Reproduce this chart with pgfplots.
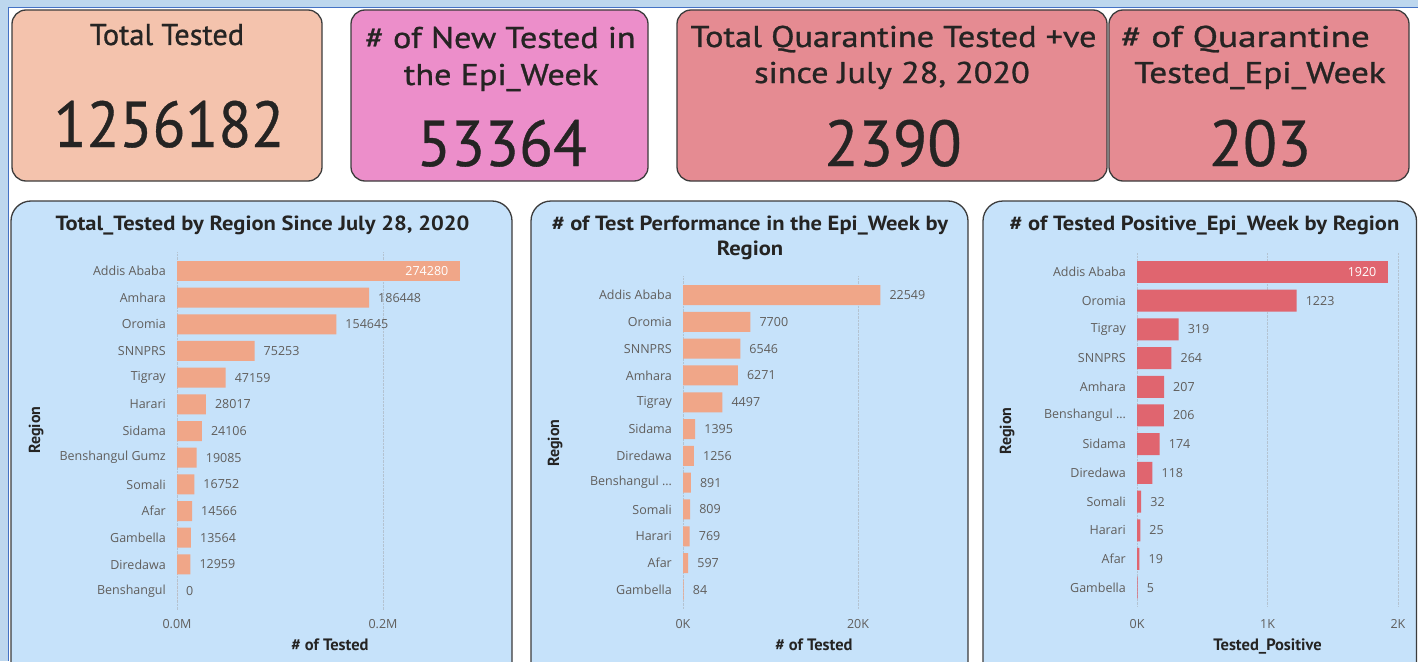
\documentclass[border=0pt]{standalone}
\usepackage{pgfplots}
\pgfplotsset{compat=1.18}
\usepackage{pgfplotstable}
\usepackage{fontspec}
\setmainfont{Open Sans}
\newfontfamily\din{PT Sans}
\newfontfamily\dinm{PT Sans}[FakeBold=0.9]
\newfontfamily\dinn{PT Sans}[FakeBold=0.6]
\definecolor{bgblue}{HTML}{BDD7EE}
\definecolor{frameblue}{HTML}{4472C4}
\definecolor{peach}{HTML}{F4C3AD}
\definecolor{pinkc}{HTML}{EC8ECA}
\definecolor{rose}{HTML}{E58B92}
\definecolor{panelblue}{HTML}{C6E2FA}
\definecolor{bord}{HTML}{3C3C3C}
\definecolor{salmon}{HTML}{F0A688}
\definecolor{redbar}{HTML}{E0656F}
\definecolor{darktext}{HTML}{252423}
\definecolor{tickgray}{HTML}{605E5C}
\definecolor{gridc}{HTML}{B4C3D1}
\newcommand\ticf{\fontsize{12.5}{14}\selectfont}
\newcommand\cardf{\dinm\fontsize{30}{32}\selectfont}
\newcommand\numf{\dinn\fontsize{65}{70}\selectfont}
\newcommand\titf{\din\bfseries\fontsize{20.5}{22}\selectfont}

\pgfplotstableread{
idx val
0 274280
}\dataAtop
\pgfplotstableread{
idx val
1 186448
2 154645
3 75253
4 47159
5 28017
6 24106
7 19085
8 16752
9 14566
10 13564
11 12959
12 0
}\dataArest
\pgfplotstableread{
idx val
0 22549
1 7700
2 6546
3 6271
4 4497
5 1395
6 1256
7 891
8 809
9 769
10 597
11 84
}\dataB
\pgfplotstableread{
idx val
0 1920
}\dataCtop
\pgfplotstableread{
idx val
1 1223
2 319
3 264
4 207
5 206
6 174
7 118
8 32
9 25
10 19
11 5
}\dataCrest

\pgfplotsset{
  pbi/.style={
    scale only axis, anchor=south west,
    xbar, bar shift=0pt, y dir=reverse, xmin=0,
    axis x line*=bottom, axis y line*=left,
    axis line style={draw=none}, major tick length=0pt, tick style={draw=none},
    xmajorgrids, major grid style={densely dotted, gridc, line width=0.6pt},
    ytick=data,
    ticklabel style={font=\ticf, text=tickgray},
    yticklabel style={anchor=east, inner sep=0pt, xshift=-11pt},
    xticklabel style={anchor=center, inner sep=0pt},
    scaled x ticks=false,
    point meta=explicit symbolic,
    nodes near coords,
    every node near coord/.append style={font=\ticf, text=tickgray, anchor=west, inner sep=0pt, xshift=9pt},
  },
  inlab/.style={every node near coord/.append style={anchor=east, text=white, xshift=-20pt}},
}

\begin{document}
\begin{tikzpicture}
\path[use as bounding box] (0pt,0pt) rectangle (1418pt,-661pt);
\clip (0pt,0pt) rectangle (1418pt,-661pt);
\begin{scope}[x=1pt,y=-1pt]
\fill[bgblue] (0,0) rectangle (1418,661);
\fill[white] (9,8) rectangle (1418,661);
\draw[frameblue, line width=1.6pt] (8.5,661) -- (8.5,7.5) -- (1418,7.5);
% cards
\draw[bord, line width=1.3pt, fill=peach, rounded corners=14pt] (12,10) rectangle (322,181);
\draw[bord, line width=1.3pt, fill=pinkc, rounded corners=14pt] (351,10) rectangle (648,181);
\draw[bord, line width=1.3pt, fill=rose, rounded corners=14pt] (677,10) rectangle (1107,181);
\draw[bord, line width=1.3pt, fill=rose, rounded corners=14pt] (1109,10) rectangle (1409,181);
\begin{scope}[every node/.style={anchor=base, inner sep=0pt, text=darktext}]
\node[font=\cardf, xscale=1.01] at (167,45) {Total Tested};
\node[font=\numf, xscale=0.93] at (169,147) {1256182};
\node[font=\cardf, xscale=1.14] at (500.5,48) {\# of New Tested in};
\node[font=\cardf, xscale=1.14] at (501,85) {the Epi\_Week};
\node[font=\numf, xscale=0.96] at (502,166) {53364};
\node[font=\cardf, xscale=1.14] at (893.5,47) {Total Quarantine Tested +ve};
\node[font=\cardf, xscale=1.14] at (892,83) {since July 28, 2020};
\node[font=\numf, xscale=0.97] at (893,166) {2390};
\node[font=\cardf, xscale=1.24] at (1245.5,47) {\# of Quarantine};
\node[font=\cardf, xscale=1.17] at (1260,83) {Tested\_Epi\_Week};
\node[font=\numf, xscale=0.96] at (1260,166) {203};
\end{scope}
% panels
\draw[bord, line width=1.3pt, fill=panelblue, rounded corners=20pt] (11,201) rectangle (512,690);
\draw[bord, line width=1.3pt, fill=panelblue, rounded corners=20pt] (531,201) rectangle (968,690);
\draw[bord, line width=1.3pt, fill=panelblue, rounded corners=20pt] (983,201) rectangle (1416.5,690);
\begin{scope}[every node/.style={anchor=base, inner sep=0pt, text=darktext}]
\node[font=\titf, xscale=1.1] at (262.5,230) {Total\_Tested by Region Since July 28, 2020};
\node[font=\titf, xscale=1.1] at (750,230) {\# of Test Performance in the Epi\_Week by};
\node[font=\titf, xscale=1.1] at (750,255) {Region};
\node[font=\titf, xscale=1.1] at (1204.5,230) {\# of Tested Positive\_Epi\_Week by Region};
\node[font=\din\bfseries\fontsize{16.5}{18}\selectfont] at (330,650) {\# of Tested};
\node[font=\din\bfseries\fontsize{16.5}{18}\selectfont] at (814,650) {\# of Tested};
\node[font=\din\bfseries\fontsize{16.5}{18}\selectfont] at (1267.5,650) {Tested\_Positive};
\node[font=\din\bfseries\fontsize{16}{18}\selectfont, rotate=90] at (40,430) {Region};
\node[font=\din\bfseries\fontsize{16}{18}\selectfont, rotate=90] at (559,443) {Region};
\node[font=\din\bfseries\fontsize{16}{18}\selectfont, rotate=90] at (1011,431) {Region};
\end{scope}
\end{scope}

% Panel 1
\begin{axis}[pbi,
  at={(177pt,-609.7pt)}, width=313pt, height=357.4pt,
  xmax=303883, ymin=-0.7, ymax=12.7, bar width=20pt,
  ytick={0,...,12},
  yticklabels={Addis Ababa,Amhara,Oromia,SNNPRS,Tigray,Harari,Sidama,Benshangul Gumz,Somali,Afar,Gambella,Diredawa,Benshangul},
  xtick={0,200000}, xticklabels={0.0M,0.2M},
  xticklabel style={yshift=-14.3pt},
]
\addplot[fill=salmon, draw=none] table[x=val, y=idx, meta=val] \dataArest;
\addplot[fill=salmon, draw=none, inlab] table[x=val, y=idx, meta=val] \dataAtop;
\end{axis}

% Panel 2
\begin{axis}[pbi,
  at={(683pt,-608.6pt)}, width=247pt, height=332.3pt,
  xmax=28229, ymin=-0.7, ymax=11.7, bar width=20pt,
  ytick={0,...,11},
  yticklabels={Addis Ababa,Oromia,SNNPRS,Amhara,Tigray,Sidama,Diredawa,Benshangul …,Somali,Harari,Afar,Gambella},
  xtick={0,20000}, xticklabels={0K,20K},
  xticklabel style={yshift=-15.4pt},
]
\addplot[fill=salmon, draw=none] table[x=val, y=idx, meta=val] \dataB;
\end{axis}

% Panel 3
\begin{axis}[pbi,
  at={(1137pt,-606.6pt)}, width=263.6pt, height=353.6pt,
  xmax=2020, ymin=-0.66, ymax=11.66, bar width=22pt,
  ytick={0,...,11},
  yticklabels={Addis Ababa,Oromia,Tigray,SNNPRS,Amhara,Benshangul …,Sidama,Diredawa,Somali,Harari,Afar,Gambella},
  xtick={0,1000,2000}, xticklabels={0K,1K,2K},
  xticklabel style={yshift=-17.4pt},
]
\addplot[fill=redbar, draw=none] table[x=val, y=idx, meta=val] \dataCrest;
\addplot[fill=redbar, draw=none, inlab] table[x=val, y=idx, meta=val] \dataCtop;
\end{axis}
\end{tikzpicture}
\end{document}
